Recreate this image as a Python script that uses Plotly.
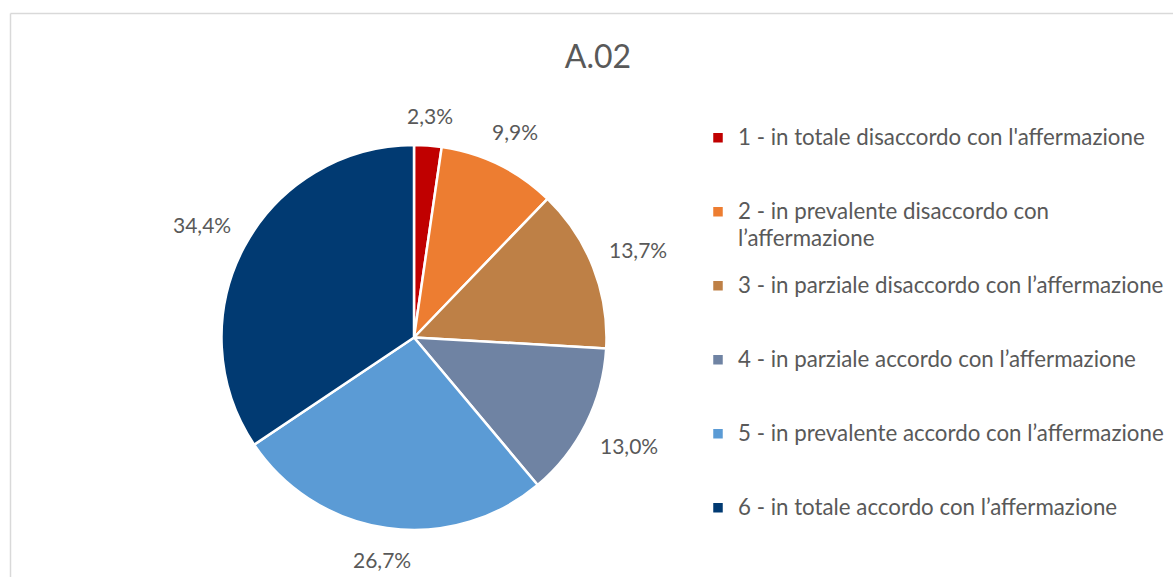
import math
import plotly.graph_objects as go

title = "A.02"
categories = [
    "1 - in totale disaccordo con l'affermazione",
    "2 - in prevalente disaccordo con<br>l’affermazione",
    "3 - in parziale disaccordo con l’affermazione",
    "4 - in parziale accordo con l’affermazione",
    "5 - in prevalente accordo con l’affermazione",
    "6 - in totale accordo con l’affermazione",
]
values = [2.3, 9.9, 13.7, 13.0, 26.7, 34.4]
colors = ["#C00000", "#ED7D31", "#BE8046", "#6F83A3", "#5B9BD5", "#013A72"]

W, H = 1173, 577
FONT = "Lato, 'Open Sans', sans-serif"
TXT = "#595959"

# pie geometry (pixels)
CX, CY, R = 414.0, 337.5, 192.5
LABEL_GAP = 18.0
LABEL_SIZE = 21

# legend labels: shown at 22px, padded to 3 lines so every entry has the same height
legend_labels = []
for c in categories:
    parts = c.split("<br>")
    styled = ['<span style="font-size:22.3px">' + parts[0] + "</span>"]
    for p in parts[1:]:
        styled.append('<span style="font-size:22.3px;baseline-shift:-3px">' + p + "</span>")
    txt = "<br>".join(styled) + "<br> " * (3 - len(parts))
    legend_labels.append(txt)

fig = go.Figure(
    go.Pie(
        labels=legend_labels,
        values=values,
        sort=False,
        direction="clockwise",
        rotation=0,
        marker=dict(colors=colors, line=dict(color="white", width=2.5)),
        textinfo="none",
        domain=dict(x=[(CX - R) / W, (CX + R) / W], y=[1 - (CY + R) / H, 1 - (CY - R) / H]),
        hoverinfo="value",
    )
)

# data labels placed just outside each slice, at the slice's mid angle
total = sum(values)
annotations = []
cum = 0.0
for v in values:
    theta = 2 * math.pi * (cum + v / 2) / total
    cum += v
    label = f"{v:.1f}".replace(".", ",") + "%"
    w = len(label) * 11.2
    h = 20.0
    ext = abs(math.sin(theta)) * w / 2 + abs(math.cos(theta)) * h / 2
    d = R + LABEL_GAP + ext
    px = CX + d * math.sin(theta)
    py = CY - d * math.cos(theta)
    annotations.append(dict(
        x=px / W, y=1 - py / H, xref="paper", yref="paper",
        text=label, showarrow=False, xanchor="center", yanchor="middle",
        font=dict(size=LABEL_SIZE, color=TXT, family=FONT),
    ))

fig.update_layout(
    width=W,
    height=H,
    margin=dict(l=0, r=0, t=0, b=0),
    paper_bgcolor="white",
    plot_bgcolor="white",
    separators=",.",
    font=dict(family=FONT, color=TXT),
    title=dict(
        text=title,
        x=598 / W,
        xanchor="center",
        y=1 - 57 / H,
        yanchor="middle",
        font=dict(size=32, color=TXT, family=FONT),
    ),
    legend=dict(
        x=698 / W,
        xanchor="left",
        y=1 - 119.5 / H,
        yanchor="top",
        valign="top",
        font=dict(size=18.2, color=TXT, family=FONT),
        bgcolor="rgba(0,0,0,0)",
    ),
    annotations=annotations,
    shapes=[
        dict(type="line", xref="paper", yref="paper", x0=10.5 / W, x1=1, y0=1 - 13.5 / H, y1=1 - 13.5 / H,
             line=dict(color="#D9D9D9", width=1.5)),
        dict(type="line", xref="paper", yref="paper", x0=10.5 / W, x1=10.5 / W, y0=0, y1=1 - 13.5 / H,
             line=dict(color="#D9D9D9", width=1.5)),
    ],
)

fig.write_html("out.html", config={"displayModeBar": False},
               post_script="document.body.style.margin='0';")
